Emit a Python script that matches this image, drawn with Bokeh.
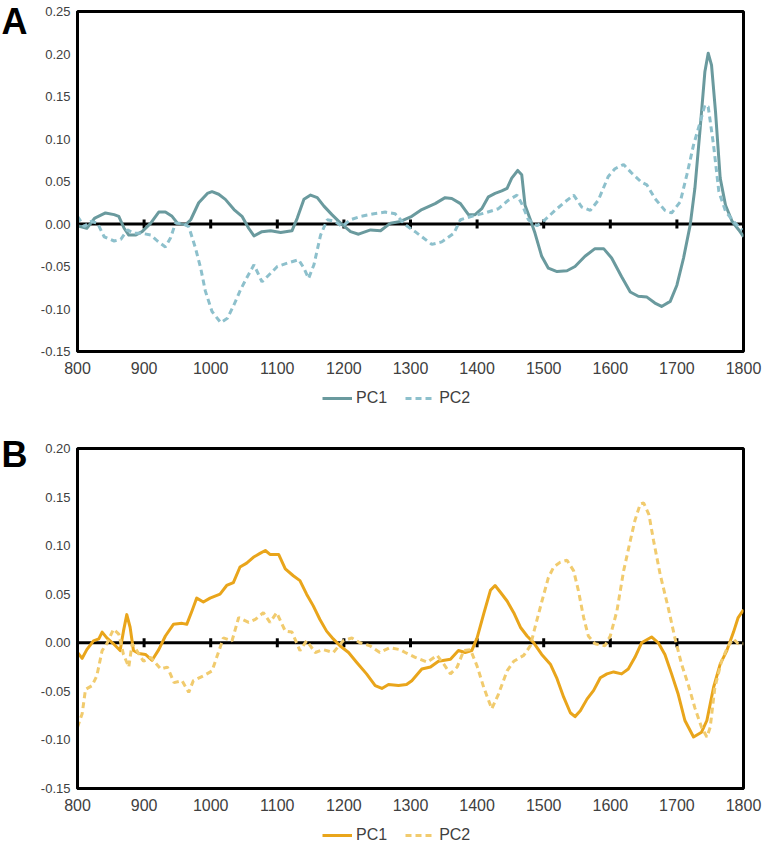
import math
from bokeh.plotting import figure
from bokeh.models import (Range1d, FixedTicker, NumeralTickFormatter, Span,
                          Legend, LegendItem, Label)
from bokeh.layouts import column
from bokeh.embed import file_html
from bokeh.resources import INLINE

# ---------------- data ----------------
x_ticks = [800, 900, 1000, 1100, 1200, 1300, 1400, 1500, 1600, 1700, 1800]
zero_ticks = [900, 1000, 1100, 1200, 1300, 1400, 1500, 1600, 1700]
a_y_ticks = [-0.15, -0.10, -0.05, 0.00, 0.05, 0.10, 0.15, 0.20, 0.25]
b_y_ticks = [-0.15, -0.10, -0.05, 0.00, 0.05, 0.10, 0.15, 0.20]
series_names = ["PC1", "PC2"]

a_pc1_x = [800, 814, 826, 842, 855, 862, 870, 877, 887, 897, 910, 922, 932, 942, 950, 962, 970, 982, 995,
           1002, 1012, 1022, 1035, 1047, 1057, 1065, 1077, 1090, 1105, 1122, 1130, 1140, 1150, 1160, 1170,
           1182, 1195, 1210, 1222, 1240, 1255, 1270, 1285, 1302, 1317, 1337, 1352, 1362, 1375, 1387, 1397,
           1407, 1417, 1427, 1437, 1445, 1452, 1461, 1467, 1472, 1480, 1487, 1497, 1507, 1520, 1535, 1547,
           1562, 1577, 1590, 1602, 1617, 1630, 1642, 1655, 1667, 1677, 1690, 1700, 1710, 1720, 1727, 1735,
           1742, 1747, 1752, 1758, 1765, 1773, 1783, 1793, 1800]
a_pc1_y = [-0.002, -0.005, 0.007, 0.013, 0.011, 0.009, -0.005, -0.013, -0.013, -0.009, 0.001, 0.014, 0.014,
           0.009, 0.001, -0.001, 0.005, 0.025, 0.036, 0.038, 0.035, 0.029, 0.017, 0.009, -0.005, -0.014,
           -0.009, -0.008, -0.010, -0.008, 0.007, 0.029, 0.034, 0.031, 0.021, 0.011, 0.001, -0.009, -0.012,
           -0.007, -0.008, 0.001, 0.003, 0.009, 0.017, 0.024, 0.031, 0.030, 0.024, 0.011, 0.011, 0.018, 0.032,
           0.036, 0.039, 0.042, 0.054, 0.063, 0.058, 0.022, 0.005, -0.011, -0.038, -0.052, -0.056, -0.055,
           -0.050, -0.038, -0.029, -0.029, -0.040, -0.062, -0.080, -0.085, -0.086, -0.093, -0.097, -0.091,
           -0.072, -0.040, -0.001, 0.042, 0.113, 0.179, 0.201, 0.187, 0.132, 0.054, 0.022, 0.003, -0.007, -0.015]

a_pc2_x = [800, 810, 820, 830, 840, 855, 865, 875, 885, 897, 910, 920, 932, 940, 947, 957, 967, 977, 985, 992,
           1002, 1015, 1025, 1035, 1045, 1055, 1065, 1077, 1090, 1100, 1115, 1132, 1140, 1147, 1155, 1165,
           1175, 1187, 1197, 1210, 1225, 1245, 1262, 1277, 1292, 1307, 1332, 1347, 1365, 1375, 1392, 1412,
           1432, 1447, 1460, 1467, 1477, 1490, 1502, 1517, 1532, 1545, 1557, 1570, 1582, 1597, 1607, 1620,
           1632, 1647, 1655, 1667, 1682, 1692, 1705, 1715, 1725, 1735, 1742, 1747, 1755, 1763, 1773, 1785, 1798]
a_pc2_y = [0.009, -0.003, 0.003, 0.001, -0.015, -0.020, -0.018, -0.007, -0.011, -0.011, -0.013, -0.020, -0.027,
           -0.016, 0.001, 0.001, -0.003, -0.028, -0.052, -0.079, -0.103, -0.116, -0.111, -0.095, -0.077, -0.062,
           -0.048, -0.068, -0.058, -0.050, -0.046, -0.042, -0.052, -0.064, -0.048, -0.013, 0.005, 0.003, -0.003,
           0.005, 0.009, 0.012, 0.014, 0.012, -0.001, -0.009, -0.024, -0.021, -0.011, 0.005, 0.009, 0.013, 0.018,
           0.028, 0.034, 0.024, 0.005, -0.002, 0.005, 0.016, 0.026, 0.034, 0.020, 0.016, 0.028, 0.056, 0.065,
           0.070, 0.060, 0.049, 0.046, 0.030, 0.016, 0.013, 0.026, 0.058, 0.093, 0.120, 0.140, 0.138, 0.093,
           0.038, 0.015, 0.003, -0.007]

b_pc1_x = [800, 807, 814, 824, 832, 837, 844, 854, 864, 869, 874, 879, 884, 892, 902, 912, 922, 932, 944, 957,
           964, 972, 979, 989, 999, 1014, 1024, 1034, 1044, 1054, 1064, 1074, 1082, 1089, 1102, 1112, 1124,
           1134, 1144, 1154, 1164, 1174, 1184, 1194, 1207, 1219, 1234, 1247, 1257, 1267, 1282, 1294, 1302,
           1317, 1330, 1342, 1360, 1372, 1382, 1392, 1400, 1410, 1420, 1427, 1435, 1445, 1455, 1465, 1475,
           1485, 1497, 1510, 1520, 1530, 1540, 1547, 1555, 1565, 1575, 1585, 1595, 1605, 1617, 1627, 1637,
           1647, 1662, 1672, 1682, 1692, 1702, 1712, 1725, 1737, 1745, 1755, 1765, 1775, 1785, 1792, 1800]
b_pc1_y = [-0.010, -0.016, -0.007, 0.002, 0.004, 0.011, 0.005, -0.001, -0.008, 0.012, 0.029, 0.016, -0.008,
           -0.011, -0.012, -0.018, -0.007, 0.007, 0.019, 0.020, 0.019, 0.033, 0.046, 0.042, 0.046, 0.050, 0.059,
           0.062, 0.078, 0.082, 0.088, 0.092, 0.095, 0.091, 0.091, 0.076, 0.069, 0.064, 0.050, 0.038, 0.024,
           0.012, 0.004, -0.003, -0.010, -0.020, -0.032, -0.044, -0.047, -0.043, -0.044, -0.043, -0.039, -0.027,
           -0.025, -0.019, -0.017, -0.008, -0.010, -0.008, 0.005, 0.030, 0.054, 0.059, 0.052, 0.043, 0.031,
           0.016, 0.007, 0.000, -0.012, -0.022, -0.037, -0.056, -0.072, -0.076, -0.070, -0.058, -0.049, -0.036,
           -0.032, -0.030, -0.032, -0.027, -0.015, 0.000, 0.006, 0.000, -0.012, -0.032, -0.053, -0.080, -0.097,
           -0.092, -0.080, -0.046, -0.022, -0.008, 0.011, 0.026, 0.034]

b_pc2_x = [800, 807, 812, 822, 829, 837, 844, 854, 862, 869, 877, 882, 889, 899, 910, 925, 935, 945, 957, 967,
           974, 989, 1002, 1009, 1019, 1032, 1042, 1057, 1067, 1079, 1089, 1099, 1112, 1122, 1134, 1144, 1157,
           1169, 1184, 1199, 1212, 1224, 1239, 1254, 1269, 1284, 1292, 1307, 1325, 1340, 1350, 1360, 1370,
           1380, 1390, 1400, 1410, 1422, 1432, 1445, 1455, 1470, 1480, 1487, 1497, 1507, 1515, 1525, 1535,
           1545, 1552, 1560, 1567, 1577, 1592, 1600, 1610, 1620, 1630, 1637, 1645, 1650, 1658, 1665, 1675,
           1687, 1697, 1707, 1717, 1727, 1737, 1745, 1750, 1757, 1767, 1777, 1785, 1792, 1800]
b_pc2_y = [-0.087, -0.073, -0.048, -0.044, -0.034, -0.008, -0.001, 0.014, 0.009, -0.012, -0.025, -0.001,
           -0.008, -0.019, -0.015, -0.027, -0.025, -0.041, -0.039, -0.051, -0.039, -0.034, -0.029, -0.015,
           0.005, 0.002, 0.026, 0.021, 0.024, 0.031, 0.021, 0.031, 0.012, 0.011, -0.008, 0.002, -0.010, -0.007,
           -0.010, 0.002, 0.005, 0.000, -0.003, -0.010, -0.005, -0.007, -0.010, -0.015, -0.020, -0.013, -0.022,
           -0.032, -0.025, -0.008, -0.007, -0.024, -0.046, -0.068, -0.053, -0.029, -0.019, -0.013, -0.003,
           0.016, 0.042, 0.067, 0.078, 0.083, 0.085, 0.074, 0.054, 0.026, 0.007, -0.001, -0.003, 0.007, 0.033,
           0.074, 0.105, 0.126, 0.143, 0.144, 0.132, 0.105, 0.070, 0.036, 0.005, -0.022, -0.043, -0.067, -0.087,
           -0.097, -0.087, -0.046, -0.019, -0.003, 0.004, -0.001, -0.001]

FONT = "Liberation Sans"
TXT = "#404040"
FRAME_W = 666
FRAME_H = 340
LEFT = 77
RIGHT = 19
TOTAL_W = LEFT + FRAME_W + RIGHT
BOTTOM = 28
DASH = "6 4"


def make_panel(letter, ymin, ymax, yticks, s1, s2, c1, c2, top, letter_dy):
    p = figure(width=TOTAL_W, height=top + FRAME_H + BOTTOM,
               x_range=Range1d(800, 1800), y_range=Range1d(ymin, ymax),
               output_backend="svg", toolbar_location=None,
               min_border_left=LEFT, min_border_right=RIGHT,
               min_border_top=top, min_border_bottom=BOTTOM,
               background_fill_color="white", border_fill_color="white")
    p.grid.visible = False
    p.outline_line_color = "black"
    p.outline_line_width = 3
    p.outline_line_alpha = 1

    xa = p.xaxis[0]
    xa.ticker = FixedTicker(ticks=x_ticks)
    xa.major_tick_out = 0
    xa.major_tick_in = 0
    xa.minor_tick_out = 0
    xa.minor_tick_in = 0
    xa.axis_line_color = "black"
    xa.axis_line_width = 3
    xa.major_label_standoff = 10
    xa.major_label_text_font = FONT
    xa.major_label_text_font_size = "16px"
    xa.major_label_text_color = TXT

    ya = p.yaxis[0]
    ya.ticker = FixedTicker(ticks=yticks)
    ya.formatter = NumeralTickFormatter(format="0.00")
    ya.major_tick_out = 0
    ya.major_tick_in = 0
    ya.minor_tick_out = 0
    ya.minor_tick_in = 0
    ya.axis_line_color = "black"
    ya.axis_line_width = 3
    ya.major_label_standoff = 7
    ya.major_label_text_font = FONT
    ya.major_label_text_font_size = "13px"
    ya.major_label_text_color = TXT

    zero = Span(location=0, dimension="width", line_color="black",
                line_width=3, level="underlay")
    p.add_layout(zero)
    p.scatter(x=zero_ticks, y=[0] * len(zero_ticks), marker="dash",
              angle=math.pi / 2, size=9, line_color="black", line_width=3)

    p.line(s1[0], s1[1], line_color=c1, line_width=3, line_join="round")
    p.line(s2[0], s2[1], line_color=c2, line_width=3, line_dash=DASH)

    lab = Label(x=-10, y=FRAME_H + letter_dy, x_units="screen", y_units="screen",
                text=letter, text_font=FONT, text_font_size="36px",
                text_font_style="bold", text_color="black",
                text_baseline="top", text_align="left")
    p.add_layout(lab, "left")
    return p


def make_legend(c1, c2, height, dy):
    q = figure(width=TOTAL_W, height=height, x_range=Range1d(0, 1), y_range=Range1d(0, 1),
               output_backend="svg", toolbar_location=None,
               x_axis_type=None, y_axis_type=None,
               min_border=0, outline_line_color=None,
               background_fill_color="white", border_fill_color="white")
    q.grid.visible = False
    # legend proxies (no visible data)
    nan = float("nan")
    r1 = q.line([0, 1], [nan, nan], line_color=c1, line_width=3)
    r2 = q.line([0, 1], [nan, nan], line_color=c2, line_width=3, line_dash=DASH)
    legend = Legend(items=[LegendItem(label=series_names[0], renderers=[r1]),
                           LegendItem(label=series_names[1], renderers=[r2])],
                    orientation="horizontal", location=(245, dy),
                    label_text_font=FONT, label_text_font_size="16px",
                    label_text_color=TXT, glyph_width=30, glyph_height=16,
                    label_height=16, label_standoff=4, spacing=18,
                    padding=0, margin=0, border_line_color=None,
                    background_fill_alpha=0)
    q.add_layout(legend)
    return q


pa = make_panel("A", -0.15, 0.25, a_y_ticks, (a_pc1_x, a_pc1_y), (a_pc2_x, a_pc2_y),
                "#6A9A9E", "#8DC0CC", 11, 11)
la = make_legend("#6A9A9E", "#8DC0CC", 36, 8)
pb = make_panel("B", -0.15, 0.20, b_y_ticks, (b_pc1_x, b_pc1_y), (b_pc2_x, b_pc2_y),
                "#E9A51B", "#F1CB6E", 33, 15)
lb = make_legend("#E9A51B", "#F1CB6E", 28, 0)

layout = column(pa, la, pb, lb, spacing=0)
open("out.html", "w").write(file_html(layout, INLINE))
